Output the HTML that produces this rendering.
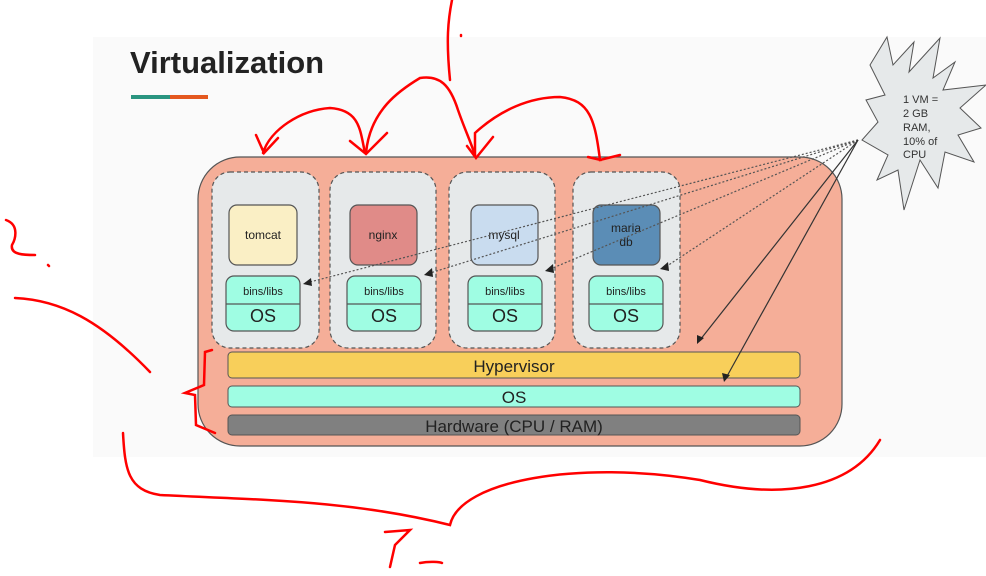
<!DOCTYPE html>
<html><head><style>
body{margin:0;width:986px;height:571px;background:#fff;overflow:hidden;font-family:"Liberation Sans",sans-serif}
</style></head><body>
<svg width="986" height="571" viewBox="0 0 986 571" xmlns="http://www.w3.org/2000/svg" font-family="Liberation Sans, sans-serif">
<rect x="93" y="37" width="893" height="420" fill="#fafafa"/>
<text x="130" y="73" font-size="31" font-weight="bold" fill="#222">Virtualization</text>
<rect x="131" y="95" width="39" height="4" fill="#2a9580"/>
<rect x="170" y="95" width="38" height="4" fill="#e4581f"/>
<rect x="198" y="157" width="644" height="289" rx="42" fill="#f5ae98" stroke="#555" stroke-width="1.2"/>
<g fill="#e6e9ea" stroke="#555" stroke-dasharray="4,3" stroke-width="1.2">
<rect x="212" y="172" width="107" height="176" rx="18"/>
<rect x="330" y="172" width="106" height="176" rx="18"/>
<rect x="449" y="172" width="106" height="176" rx="18"/>
<rect x="573" y="172" width="107" height="176" rx="18"/>
</g>
<g stroke="#555" stroke-width="1.2">
<rect x="229" y="205" width="68" height="60" rx="8" fill="#faefc5"/>
<rect x="350" y="205" width="67" height="60" rx="8" fill="#e08b88"/>
<rect x="471" y="205" width="67" height="60" rx="8" fill="#c9dcef"/>
<rect x="593" y="205" width="67" height="60" rx="8" fill="#5b8db6"/>
</g>
<g font-size="12" fill="#222" text-anchor="middle">
<text x="263" y="239">tomcat</text><text x="383" y="239">nginx</text><text x="504" y="239">mysql</text>
<text x="626" y="232">maria</text><text x="626" y="246">db</text>
</g>
<g stroke="#555" stroke-width="1.2" fill="#9ffde3">
<rect x="226" y="276" width="74" height="55" rx="8"/><line x1="226" y1="304" x2="300" y2="304"/>
<rect x="347" y="276" width="74" height="55" rx="8"/><line x1="347" y1="304" x2="421" y2="304"/>
<rect x="468" y="276" width="74" height="55" rx="8"/><line x1="468" y1="304" x2="542" y2="304"/>
<rect x="589" y="276" width="74" height="55" rx="8"/><line x1="589" y1="304" x2="663" y2="304"/>
</g>
<g text-anchor="middle" fill="#222">
<g font-size="11"><text x="263" y="295">bins/libs</text><text x="384" y="295">bins/libs</text><text x="505" y="295">bins/libs</text><text x="626" y="295">bins/libs</text></g>
<g font-size="18"><text x="263" y="322">OS</text><text x="384" y="322">OS</text><text x="505" y="322">OS</text><text x="626" y="322">OS</text></g>
</g>
<rect x="228" y="352" width="572" height="26" rx="4" fill="#f8cf5a" stroke="#555"/>
<text x="514" y="372" font-size="17" text-anchor="middle" fill="#222">Hypervisor</text>
<rect x="228" y="386" width="572" height="21" rx="4" fill="#9ffde3" stroke="#555"/>
<text x="514" y="403" font-size="17" text-anchor="middle" fill="#222">OS</text>
<rect x="228" y="415" width="572" height="20" rx="4" fill="#808080" stroke="#555"/>
<text x="514" y="432" font-size="17" text-anchor="middle" fill="#222">Hardware (CPU / RAM)</text>
<polygon points="887,37 893,65 914,42 909,72 940,38 933,78 955,62 943,90 986,85 960,108 981,128 958,135 974,162 945,152 938,188 920,160 904,210 898,170 877,180 888,155 862,140 878,122 866,100 885,95 870,65" fill="#e6e9ea" stroke="#555" stroke-width="1"/>
<g font-size="11" fill="#333"><text x="903" y="103">1 VM =</text><text x="903" y="117">2 GB</text><text x="903" y="131">RAM,</text><text x="903" y="145">10% of</text><text x="903" y="158">CPU</text></g>
<g stroke="#555" stroke-width="1.2" stroke-dasharray="2,2" fill="none">
<line x1="858" y1="140" x2="306" y2="283"/><line x1="858" y1="140" x2="427" y2="274"/>
<line x1="858" y1="140" x2="548" y2="270"/><line x1="858" y1="140" x2="664" y2="268"/>
</g>
<g stroke="#333" stroke-width="1.2"><line x1="858" y1="140" x2="700" y2="340"/><line x1="858" y1="140" x2="726" y2="378"/></g>
<g fill="#222">
<polygon points="303,284 311,278 312,286"/><polygon points="424,275 432,268 433,277"/>
<polygon points="545,271 553,264 554,273"/><polygon points="660,269 668,262 669,271"/>
<polygon points="697,344 697,335 704,338"/><polygon points="724,382 722,373 730,375"/>
</g>
<g stroke="#f00" stroke-width="2.5" fill="none" stroke-linecap="round">
<path d="M263,153 C270,130 300,110 330,108 C360,110 360,130 365,153 M256,135 L264,153 L278,138 M350,141 L366,154 L387,133"/>
<path d="M366,153 C370,110 400,90 420,78 C440,75 450,85 458,110 C465,130 470,140 475,155 M467,146 L476,158 L493,137"/>
<path d="M475,155 L475,133 C500,110 530,97 560,97 C590,100 595,120 600,160 L620,155 M601,160 L588,157"/>
<path d="M452,0 C448,20 446,40 450,80 M461,35 L461,36"/>
<path d="M6,220 C20,225 15,240 12,245 C10,255 25,255 35,255 M48,265 L49,266"/>
<path d="M15,298 C60,300 100,320 150,372"/>
<path d="M212,350 L205,352 L204,385 L185,393 L195,395 L196,425 L215,433"/>
<path d="M123,433 C125,470 128,490 160,495 C260,500 350,500 450,525 C460,480 580,460 700,480 C780,500 850,490 880,440"/>
<path d="M385,532 L410,530 L395,545 L390,567 M420,563 C430,561 440,562 442,563"/>
</g>
</svg>
</body></html>
